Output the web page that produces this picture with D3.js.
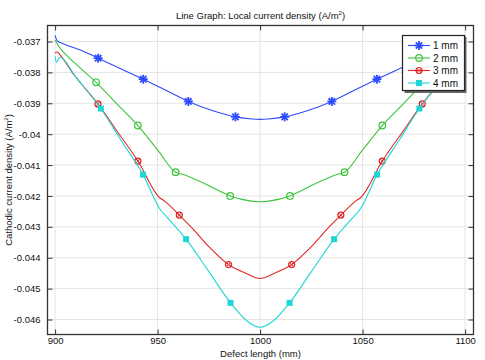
<!DOCTYPE html>
<html><head><meta charset="utf-8">
<script src="https://cdn.jsdelivr.net/npm/d3@7"></script>
<style>body{margin:0;background:#fff}svg{display:block;font-family:"Liberation Sans",Arial,sans-serif}</style>
</head><body>
<script>
const seriesNames = ["1 mm","2 mm","3 mm","4 mm"];
const colors = ["#2f4cff","#3dc43d","#e02626","#1fd6d6"];
const xTicks = [900,950,1000,1050,1100];
const yTicks = [-0.037,-0.038,-0.039,-0.04,-0.041,-0.042,-0.043,-0.044,-0.045,-0.046];

const x1 = [900,901,904,912,921,932,943,954,965,977,988,996,1000,1004,1012,1023,1035,1046,1057,1068,1079,1088,1096,1099,1100];
const y1 = [-0.03680,-0.03697,-0.03707,-0.03727,-0.03754,-0.03788,-0.03822,-0.03858,-0.03894,-0.03924,-0.03944,-0.03951,-0.03952,-0.03951,-0.03944,-0.03924,-0.03894,-0.03858,-0.03822,-0.03788,-0.03754,-0.03727,-0.03707,-0.03697,-0.03680];
const m1 = [921,943,965,988,1012,1035,1057,1079];

const x2 = [900,901.5,907,913,920,930,940.4,950,958.8,962.2,973.6,985.4,995,1000,1005,1014.6,1026.4,1037.8,1041.2,1050,1059.6,1070,1080,1087,1093,1098.5,1100];
const y2 = [-0.03695,-0.03713,-0.03754,-0.03790,-0.03832,-0.03901,-0.03972,-0.04051,-0.04123,-0.04130,-0.04162,-0.04200,-0.04216,-0.04219,-0.04216,-0.04200,-0.04162,-0.04130,-0.04123,-0.04051,-0.03972,-0.03901,-0.03832,-0.03790,-0.03754,-0.03713,-0.03695];
const m2 = [920,940.4,958.8,985.4,1014.6,1041.2,1059.6,1080];

const x3 = [900,901,902.5,909,920.9,930,940.4,950.9,953.3,960.6,967,975,984.6,993.3,1000,1006.7,1015.4,1025,1033,1039.4,1046.7,1049.1,1059.6,1070,1079.1,1091,1097.5,1099,1100];
const y3 = [-0.03737,-0.03734,-0.03744,-0.03806,-0.03902,-0.03988,-0.04087,-0.04205,-0.04216,-0.04262,-0.04305,-0.04364,-0.04422,-0.04451,-0.04467,-0.04451,-0.04422,-0.04364,-0.04305,-0.04262,-0.04216,-0.04205,-0.04087,-0.03988,-0.03902,-0.03806,-0.03744,-0.03734,-0.03737];
const m3 = [920.9,940.4,960.6,984.6,1015.4,1039.4,1059.6,1079.1];

const x4 = [900,900.7,902.4,910,922.3,932,942.9,951.7,954.1,963.9,975,985.6,993.3,1000,1006.7,1014.4,1025,1036.1,1045.9,1048.3,1057.1,1068,1077.7,1090,1097.6,1099.3,1100];
const y4 = [-0.03748,-0.03767,-0.03751,-0.03814,-0.03917,-0.04018,-0.04131,-0.04248,-0.04265,-0.04340,-0.04445,-0.04546,-0.04603,-0.04625,-0.04603,-0.04546,-0.04445,-0.04340,-0.04265,-0.04248,-0.04131,-0.04018,-0.03917,-0.03814,-0.03751,-0.03767,-0.03748];
const m4 = [922.3,942.9,963.9,985.6,1014.4,1036.1,1057.1,1077.7];

const xs = [x1,x2,x3,x4], ys = [y1,y2,y3,y4], ms = [m1,m2,m3,m4];

const W = 485, H = 360;
const L = 47.5, R = 473.5, T = 25.5, B = 334.5;
const svg = d3.select("body").append("svg").attr("width",W).attr("height",H);
const x = d3.scaleLinear().domain([896.3,1104.1]).range([L,R]);
const y = d3.scaleLinear().domain([-0.046485,-0.036482]).range([B,T]);

// grid
svg.append("g").selectAll("line").data(xTicks).join("line")
  .attr("x1",d=>x(d)).attr("x2",d=>x(d)).attr("y1",T).attr("y2",B)
  .attr("stroke","#e4e4e4").attr("stroke-width",1);
svg.append("g").selectAll("line").data(yTicks).join("line")
  .attr("y1",d=>y(d)).attr("y2",d=>y(d)).attr("x1",L).attr("x2",R)
  .attr("stroke","#e4e4e4").attr("stroke-width",1);

// axes (ticks inward)
const fmtY = d => String(d);
const axL = svg.append("g").attr("transform",`translate(${L},0)`)
  .call(d3.axisLeft(y).tickValues(yTicks).tickSize(-5).tickPadding(7).tickFormat(fmtY));
const axB = svg.append("g").attr("transform",`translate(0,${B})`)
  .call(d3.axisBottom(x).tickValues(xTicks).tickSize(-5).tickPadding(3).tickFormat(d3.format("d")));
const axR = svg.append("g").attr("transform",`translate(${R},0)`)
  .call(d3.axisRight(y).tickValues(yTicks).tickSize(-5).tickFormat(""));
const axT = svg.append("g").attr("transform",`translate(0,${T})`)
  .call(d3.axisTop(x).tickValues(xTicks).tickSize(-5).tickFormat(""));
[axL,axB,axR,axT].forEach(g=>{
  g.select(".domain").remove();
  g.selectAll(".tick line").attr("stroke","#333");
  g.selectAll("text").attr("fill","#111").style("font-size","9.5px");
});
svg.append("rect").attr("x",L).attr("y",T).attr("width",R-L).attr("height",B-T)
  .attr("fill","none").attr("stroke","#333").attr("stroke-width",1.3);

// clip
svg.append("clipPath").attr("id","clip").append("rect").attr("x",L).attr("y",T).attr("width",R-L).attr("height",B-T);

const line = d3.line().x(d=>x(d[0])).y(d=>y(d[1])).curve(d3.curveMonotoneX);

function marker(g, k, cx, cy, c){
  if(k===0){
    [0,45,90,135].forEach(a=>{
      const r=4.5, rad=a*Math.PI/180;
      g.append("line").attr("x1",cx-r*Math.cos(rad)).attr("y1",cy-r*Math.sin(rad))
        .attr("x2",cx+r*Math.cos(rad)).attr("y2",cy+r*Math.sin(rad))
        .attr("stroke",c).attr("stroke-width",1.8);
    });
  } else if(k===1){
    g.append("circle").attr("cx",cx).attr("cy",cy).attr("r",3.3).attr("fill","none").attr("stroke",c).attr("stroke-width",1.2);
  } else if(k===2){
    g.append("circle").attr("cx",cx).attr("cy",cy).attr("r",3).attr("fill","none").attr("stroke",c).attr("stroke-width",1.2);
    g.append("line").attr("x1",cx-2.2).attr("y1",cy-2.2).attr("x2",cx+2.2).attr("y2",cy+2.2).attr("stroke",c).attr("stroke-width",1);
    g.append("line").attr("x1",cx-2.2).attr("y1",cy+2.2).attr("x2",cx+2.2).attr("y2",cy-2.2).attr("stroke",c).attr("stroke-width",1);
  } else {
    g.append("rect").attr("x",cx-3).attr("y",cy-3).attr("width",6).attr("height",6).attr("fill",c);
  }
}

const plot = svg.append("g").attr("clip-path","url(#clip)");
xs.forEach((xa,i)=>{
  const pts = xa.map((v,j)=>[v,ys[i][j]]);
  plot.append("path").datum(pts).attr("d",line).attr("fill","none")
    .attr("stroke",colors[i]).attr("stroke-width",1.1);
  const g = plot.append("g");
  ms[i].forEach(mx=>{
    const j = xa.indexOf(mx);
    marker(g,i,x(mx),y(ys[i][j]),colors[i]);
  });
});

// legend
const lg = svg.append("g");
lg.append("rect").attr("x",404.5).attr("y",37).attr("width",62).attr("height",56).attr("fill","#666");
lg.append("rect").attr("x",402.5).attr("y",35.5).attr("width",62).attr("height",55).attr("fill","#fff").attr("stroke","#222").attr("stroke-width",1.2);
seriesNames.forEach((n,i)=>{
  const yy = 45.5 + i*12.5;
  lg.append("line").attr("x1",408).attr("x2",430).attr("y1",yy).attr("y2",yy).attr("stroke",colors[i]).attr("stroke-width",1.1);
  marker(lg,i,419,yy,colors[i]);
  lg.append("text").attr("x",433).attr("y",yy+3.5).text(n).style("font-size","10px").attr("fill","#111");
});

// titles
svg.append("text").attr("x",260.5).attr("y",19).attr("text-anchor","middle").style("font-size","9.5px").attr("fill","#111")
  .html('Line Graph: Local current density (A/m<tspan dy="-4" style="font-size:6px">2</tspan><tspan dy="4">)</tspan>');
svg.append("text").attr("x",260.5).attr("y",357).attr("text-anchor","middle").style("font-size","9.5px").attr("fill","#111")
  .text("Defect length (mm)");
svg.append("text").attr("transform","translate(12,180) rotate(-90)").attr("text-anchor","middle").style("font-size","9.5px").attr("fill","#111")
  .html('Cathodic current density (A/m<tspan dy="-4" style="font-size:6px">2</tspan><tspan dy="4">)</tspan>');
</script>
</body></html>
